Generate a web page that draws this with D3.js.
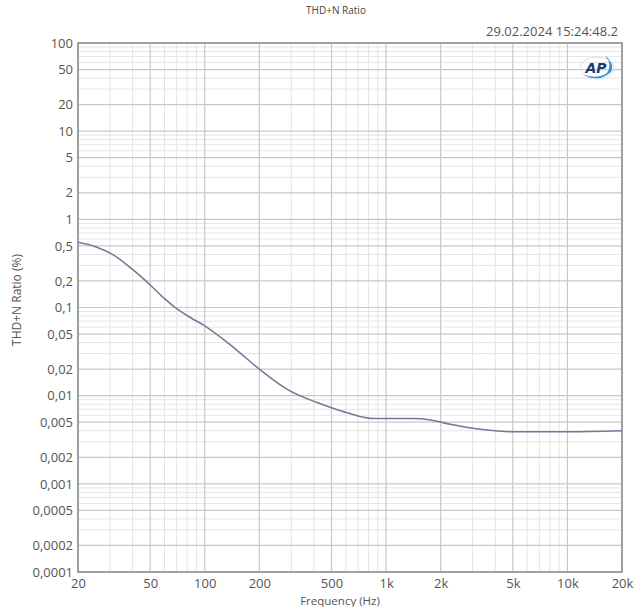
<!DOCTYPE html>
<html><head><meta charset="utf-8">
<script src="https://cdn.jsdelivr.net/npm/d3@7"></script>
<style>body{margin:0;background:#fff;} svg{display:block;}</style>
</head><body>
<svg id="c" width="637" height="607"></svg>
<script>
const freqs = [20, 25, 31, 40, 50, 60, 70, 85, 100, 140, 200, 285, 420, 500, 610, 860, 1000, 1400, 1760, 2300, 2930, 4000, 4900, 10000, 20000];
const thdn = [0.55, 0.49, 0.40, 0.27, 0.18, 0.126, 0.097, 0.075, 0.062, 0.037, 0.020, 0.0118, 0.0083, 0.0073, 0.0064, 0.0055, 0.0055, 0.0055, 0.0053, 0.0047, 0.0043, 0.0040, 0.0039, 0.0039, 0.0040];
const xTicks = [20, 50, 100, 200, 500, 1000, 2000, 5000, 10000, 20000];
const xTickLabels = ["20","50","100","200","500","1k","2k","5k","10k","20k"];
const yTicks = [100,50,20,10,5,2,1,0.5,0.2,0.1,0.05,0.02,0.01,0.005,0.002,0.001,0.0005,0.0002,0.0001];
const yTickLabels = ["100","50","20","10","5","2","1","0,5","0,2","0,1","0,05","0,02","0,01","0,005","0,002","0,001","0,0005","0,0002","0,0001"];
const title = "THD+N Ratio";
const stamp = "29.02.2024 15:24:48.2";
const xTitle = "Frequency (Hz)";
const yTitle = "THD+N Ratio (%)";

const svg = d3.select("#c");
const L = 78, R = 622, T = 43, B = 572;
const x = d3.scaleLog().domain([20, 20000]).range([L, R]);
const y = d3.scaleLog().domain([0.0001, 100]).range([B, T]);
const font = "'Open Sans', 'DejaVu Sans', sans-serif";

const xMinor = [];
for (let d = 10; d <= 10000; d *= 10) for (let m = 2; m <= 9; m++) { const v = d*m; if (v > 20 && v < 20000 && !xTicks.includes(v)) xMinor.push(v); }
const yMinor = [];
for (let d = 0.0001; d < 100; d *= 10) for (let m = 2; m <= 9; m++) { const v = +(d*m).toPrecision(3); if (!yTicks.some(t => Math.abs(t - v)/v < 1e-6)) yMinor.push(v); }

const g = svg.append("g");
g.selectAll(".xm").data(xMinor).join("line")
  .attr("x1", d => x(d)).attr("x2", d => x(d)).attr("y1", T).attr("y2", B)
  .attr("stroke", "#e4e4e4").attr("stroke-width", 1);
g.selectAll(".ym").data(yMinor).join("line")
  .attr("x1", L).attr("x2", R).attr("y1", d => y(d)).attr("y2", d => y(d))
  .attr("stroke", "#e4e4e4").attr("stroke-width", 1);
g.selectAll(".xM").data(xTicks).join("line")
  .attr("x1", d => x(d)).attr("x2", d => x(d)).attr("y1", T).attr("y2", B)
  .attr("stroke", "#c8c8c8").attr("stroke-width", 1.2);
g.selectAll(".yM").data(yTicks).join("line")
  .attr("x1", L).attr("x2", R).attr("y1", d => y(d)).attr("y2", d => y(d))
  .attr("stroke", "#c8c8c8").attr("stroke-width", 1.2);

svg.append("rect").attr("x", L).attr("y", T).attr("width", R-L).attr("height", B-T)
  .attr("fill", "none").attr("stroke", "#8a8a8a").attr("stroke-width", 1.5);

const xAxis = d3.axisBottom(x).tickValues(xTicks).tickSize(0).tickPadding(7)
  .tickFormat((d, i) => xTickLabels[i]);
const xa = svg.append("g").attr("transform", `translate(0,${B})`).call(xAxis);
xa.select(".domain").remove();
xa.selectAll("text").attr("font-family", font).attr("font-size", 13).attr("fill", "#555");

const yAxis = d3.axisLeft(y).tickValues(yTicks).tickSize(0).tickPadding(5)
  .tickFormat((d, i) => yTickLabels[i]);
const ya = svg.append("g").attr("transform", `translate(${L},0)`).call(yAxis);
ya.select(".domain").remove();
ya.selectAll("text").attr("font-family", font).attr("font-size", 13).attr("fill", "#555");

const line = d3.line().x((d, i) => x(freqs[i])).y((d, i) => y(thdn[i])).curve(d3.curveMonotoneX);
svg.append("path").datum(thdn).attr("d", line)
  .attr("fill", "none").attr("stroke", "#6f7c98").attr("stroke-width", 1.6);

svg.append("text").attr("x", 336).attr("y", 14).attr("text-anchor", "middle")
  .attr("font-family", font).attr("font-size", 10).attr("fill", "#444").text(title);
svg.append("text").attr("x", 618).attr("y", 36).attr("text-anchor", "end")
  .attr("font-family", font).attr("font-size", 13).attr("fill", "#555").text(stamp);
svg.append("text").attr("x", 340).attr("y", 605).attr("text-anchor", "middle")
  .attr("font-family", font).attr("font-size", 11.5).attr("fill", "#555").text(xTitle);
svg.append("text").attr("transform", "translate(21,300) rotate(-90)").attr("text-anchor", "middle")
  .attr("font-family", font).attr("font-size", 12).attr("fill", "#555").text(yTitle);

const lg = svg.append("g").attr("transform", "translate(597,68)");
lg.append("path").attr("d", "M -15 6 Q 0 16 14 4 Q 18 -6 8 -12 Q 16 -4 10 5 Q 0 12 -15 6 Z")
  .attr("fill", "#3a8fd0");
lg.append("ellipse").attr("cx", 0).attr("cy", 0).attr("rx", 17).attr("ry", 11)
  .attr("fill", "none").attr("stroke", "#cfe5f5").attr("stroke-width", 1);
lg.append("text").attr("x", -1).attr("y", 5).attr("text-anchor", "middle")
  .attr("font-family", "'DejaVu Sans', sans-serif").attr("font-size", 14).attr("font-weight", "bold")
  .attr("font-style", "italic").attr("fill", "#1d3b6e").text("AP");
</script>
</body></html>
